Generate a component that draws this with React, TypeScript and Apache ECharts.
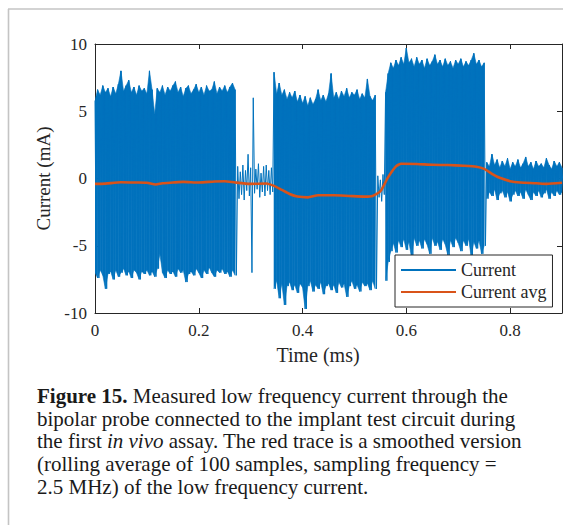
import React, { useEffect, useRef } from "react";
import * as echarts from "echarts";

// Sampling grid of the envelope read-out (ms)
const STEP = 0.005;

// Upper envelope of the "Current" trace (mA), one value per STEP, by segment
const UPPER_SEG1 = [5.8, 6.6, 6.2, 6.9, 6.4, 6.7, 6.1, 6.8, 6.3, 7.0, 8.0, 6.5, 6.9, 7.3, 6.4, 6.8, 6.2, 6.9, 6.5, 6.7, 6.3, 8.0, 6.6, 4.8, 6.7, 6.4, 6.9, 6.2, 6.8, 6.5, 6.9, 7.2, 6.4, 6.8, 6.1, 6.7, 6.9, 6.3, 6.6, 7.0, 6.4, 6.8, 6.2, 6.9, 6.5, 6.6, 7.2, 6.3, 6.8, 6.5, 6.9, 6.4, 6.8, 7.1, 6.6];
const UPPER_SEG2 = [0.9, 0.5, 1.0, 0.6, 1.8, 0.8, 6.0, 0.7, 1.1, 0.4, 0.9, 1.0, 0.6, 0.8];
const UPPER_SEG3 = [7.9, 6.3, 7.1, 6.2, 6.6, 5.9, 6.4, 6.0, 6.5, 5.7, 6.2, 5.6, 6.1, 5.4, 6.0, 5.5, 5.9, 6.6, 5.8, 6.2, 5.7, 6.3, 7.8, 6.0, 6.4, 5.9, 6.5, 6.1, 6.7, 6.0, 6.4, 6.2, 6.6, 5.9, 6.3, 6.0, 7.4, 6.1, 5.8, 6.2];
const UPPER_GAP = [0.2, -0.1, 0.3];
const UPPER_SEG4 = [6.4, 7.8, 8.6, 8.2, 8.8, 8.4, 9.0, 8.5, 9.7, 8.6, 8.9, 8.3, 9.0, 8.5, 8.8, 8.2, 8.9, 8.4, 8.7, 9.2, 8.5, 8.8, 8.3, 8.9, 8.4, 8.7, 8.2, 8.8, 8.5, 8.9, 8.3, 8.7, 8.4, 8.8, 9.3, 8.5, 8.8, 8.3, 8.6];
const UPPER_SEG5 = [1.2, 0.9, 1.8, 1.0, 1.4, 0.8, 1.3, 0.9, 1.5, 0.7, 1.2, 0.9, 1.4, 0.8, 1.1, 1.6, 0.9, 1.2, 0.7, 1.3, 0.9, 1.1, 0.8, 1.5, 1.0, 0.7, 1.3, 0.9, 1.2, 0.8];

// Lower envelope of the "Current" trace (mA)
const LOWER_SEG1 = [-7.0, -7.4, -6.8, -7.2, -8.2, -7.1, -6.9, -7.5, -6.8, -7.3, -7.0, -6.7, -7.2, -6.9, -7.4, -6.8, -7.0, -7.5, -6.9, -7.1, -6.8, -7.2, -6.9, -7.3, -6.7, -5.6, -7.0, -7.4, -6.8, -7.1, -6.9, -7.3, -6.7, -7.0, -6.8, -7.7, -7.1, -6.9, -7.2, -6.7, -7.0, -7.4, -6.8, -7.1, -6.6, -7.0, -7.3, -6.8, -7.0, -6.7, -7.1, -6.9, -7.3, -6.8, -7.2];
const LOWER_SEG2 = [-1.5, -1.2, -1.6, -0.9, -1.3, -7.0, -1.1, -0.8, -1.4, -1.0, -1.3, -0.9, -1.2, -1.0];
const LOWER_SEG3 = [-8.2, -7.6, -8.9, -7.8, -9.4, -8.0, -7.7, -8.3, -7.9, -8.5, -7.8, -8.1, -9.7, -8.0, -7.6, -8.4, -7.9, -8.2, -7.7, -8.6, -8.0, -7.8, -8.3, -7.9, -8.5, -7.7, -8.1, -7.8, -8.8, -8.0, -7.6, -8.2, -7.9, -8.4, -7.7, -8.0, -7.8, -8.3, -7.6, -8.2];
const LOWER_GAP = [-1.4, -1.7, -1.2];
const LOWER_SEG4 = [-7.6, -6.2, -5.4, -4.8, -5.5, -4.6, -5.1, -4.5, -5.3, -4.7, -5.9, -4.4, -5.0, -4.6, -5.2, -4.5, -4.9, -5.6, -4.4, -5.0, -4.7, -5.3, -4.5, -4.9, -5.7, -4.6, -5.1, -4.4, -4.8, -5.4, -4.6, -5.0, -4.5, -5.8, -4.7, -5.2, -4.6, -5.6, -5.0];
const LOWER_SEG5 = [-1.5, -1.0, -1.3, -0.8, -1.6, -1.1, -0.9, -1.4, -1.0, -1.7, -1.2, -0.9, -1.3, -1.0, -1.5, -0.8, -1.2, -1.6, -1.0, -1.3, -0.9, -1.4, -1.1, -0.8, -1.5, -1.0, -1.3, -0.9, -1.2, -1.0];

// Smoothed trace ("Current avg")
const AVG_T = [0, 0.02, 0.05, 0.08, 0.1, 0.117, 0.13, 0.15, 0.17, 0.2, 0.23, 0.25, 0.27, 0.3, 0.33, 0.345, 0.36, 0.375, 0.39, 0.41, 0.43, 0.46, 0.49, 0.52, 0.535, 0.55, 0.565, 0.58, 0.59, 0.62, 0.65, 0.68, 0.71, 0.735, 0.75, 0.765, 0.78, 0.8, 0.82, 0.85, 0.87, 0.9];
const AVG_V = [-0.4, -0.38, -0.28, -0.3, -0.32, -0.45, -0.35, -0.3, -0.25, -0.3, -0.22, -0.2, -0.3, -0.4, -0.37, -0.55, -0.85, -1.15, -1.34, -1.4, -1.25, -1.25, -1.3, -1.35, -1.3, -0.95, 0.1, 0.9, 1.1, 1.08, 1.02, 1.0, 0.95, 0.88, 0.72, 0.35, 0.05, -0.2, -0.3, -0.35, -0.4, -0.32];

const SERIES_NAMES = ["Current", "Current avg"];
const X_NAME = "Time (ms)";
const Y_NAME = "Current (mA)";

const CAPTION_LINES = [
  "{b|Figure 15.} Measured low frequency current through the",
  "bipolar probe connected to the implant test circuit during",
  "the first {i|in vivo} assay. The red trace is a smoothed version",
  "(rolling average of 100 samples, sampling frequency =",
  "2.5 MHz) of the low frequency current.",
];

const SERIF = "'Liberation Serif', 'Times New Roman', serif";
const AXIS_COLOR = "#262626";
const BLUE = "#0072bd";
const RED = "#d95319";

export default function App() {
  const ref = useRef<HTMLDivElement>(null);

  useEffect(() => {
    if (!ref.current) return;
    const chart = echarts.init(ref.current, undefined, { renderer: "svg" });

    const upperSegs = [UPPER_SEG1, UPPER_SEG2, UPPER_SEG3, UPPER_GAP, UPPER_SEG4, UPPER_SEG5];
    const lowerSegs = [LOWER_SEG1, LOWER_SEG2, LOWER_SEG3, LOWER_GAP, LOWER_SEG4, LOWER_SEG5];
    const filledSegment = [true, false, true, false, true, true];

    const upper = upperSegs.flat();
    const lower = lowerSegs.flat();

    // zig-zag trace through the envelope read-outs
    const zigzag: number[][] = [];
    for (let i = 0; i < upper.length; i++) {
      const t = i * STEP;
      zigzag.push([t, upper[i]]);
      zigzag.push([t + STEP / 2, lower[i]]);
    }

    // solid fill of the dense bursts, between the envelopes
    const band: number[][] = [];
    let offset = 0;
    upperSegs.forEach((seg, s) => {
      if (filledSegment[s]) {
        for (let k = 0; k + 1 < seg.length; k++) {
          const i = offset + k;
          band.push([i * STEP, upper[i], lower[i], (i + 1) * STEP, upper[i + 1], lower[i + 1]]);
        }
      }
      offset += seg.length;
    });

    const avg = AVG_T.map((t, i) => [t, AVG_V[i]]);

    const capFs = 21;
    const capBase = [403, 426, 448, 471, 494];

    const xCommon = {
      type: "value" as const,
      min: 0,
      max: 0.9,
      interval: 0.2,
      axisLine: { show: true, onZero: false, lineStyle: { color: AXIS_COLOR, width: 1 } },
      axisTick: { show: true, inside: true, length: 5, lineStyle: { color: AXIS_COLOR } },
      splitLine: { show: false },
    };
    const yCommon = {
      type: "value" as const,
      min: -10,
      max: 10,
      interval: 5,
      axisLine: { show: true, onZero: false, lineStyle: { color: AXIS_COLOR, width: 1 } },
      axisTick: { show: true, inside: true, length: 5, lineStyle: { color: AXIS_COLOR } },
      splitLine: { show: false },
    };

    chart.setOption({
      animation: false,
      backgroundColor: "#ffffff",
      grid: { left: 95, right: 1, top: 44, bottom: 212, containLabel: false },
      xAxis: [
        {
          ...xCommon,
          position: "bottom",
          name: X_NAME,
          nameLocation: "middle",
          nameGap: 32,
          nameTextStyle: { fontFamily: SERIF, fontSize: 20, color: AXIS_COLOR, padding: [0, 21, 0, 0] },
          axisLabel: {
            show: true,
            margin: 9,
            showMaxLabel: false,
            fontFamily: SERIF,
            fontSize: 17,
            color: AXIS_COLOR,
            formatter: (v: number) => String(+v.toFixed(1)),
          },
        },
        { ...xCommon, position: "top", axisLabel: { show: false } },
      ],
      yAxis: [
        {
          ...yCommon,
          position: "left",
          name: Y_NAME,
          nameLocation: "middle",
          nameGap: 40,
          nameTextStyle: { fontFamily: SERIF, fontSize: 19, color: AXIS_COLOR },
          axisLabel: { show: true, margin: 8, fontFamily: SERIF, fontSize: 17, color: AXIS_COLOR },
        },
        { ...yCommon, position: "right", axisLabel: { show: false } },
      ],
      legend: {
        data: [
          { name: SERIES_NAMES[0], icon: "rect", itemStyle: { color: BLUE } },
          { name: SERIES_NAMES[1], icon: "rect", itemStyle: { color: RED } },
        ],
        orient: "vertical",
        left: 395,
        top: 255,
        backgroundColor: "#ffffff",
        borderColor: AXIS_COLOR,
        borderWidth: 1,
        borderRadius: 0,
        padding: [6, 6, 6, 6],
        itemWidth: 55,
        itemHeight: 2,
        itemGap: 4,
        textStyle: { fontFamily: SERIF, fontSize: 18, color: AXIS_COLOR },
      },
      series: [
        {
          name: "band",
          type: "custom",
          data: band,
          silent: true,
          clip: true,
          z: 1,
          encode: { x: [0, 3], y: [1, 2, 4, 5] },
          renderItem: (_params: any, api: any) => {
            const a = api.coord([api.value(0), api.value(1)]);
            const b = api.coord([api.value(0), api.value(2)]);
            const c = api.coord([api.value(3), api.value(5)]);
            const d = api.coord([api.value(3), api.value(4)]);
            return {
              type: "polygon",
              shape: { points: [a, d, c, b] },
              style: { fill: BLUE, stroke: BLUE, lineWidth: 0.6 },
            };
          },
        },
        {
          name: SERIES_NAMES[0],
          type: "line",
          data: zigzag,
          symbol: "none",
          showSymbol: false,
          lineStyle: { color: BLUE, width: 1 },
          itemStyle: { color: BLUE },
          clip: true,
          z: 2,
        },
        {
          name: SERIES_NAMES[1],
          type: "line",
          data: avg,
          symbol: "none",
          showSymbol: false,
          smooth: 0.2,
          lineStyle: { color: RED, width: 2.6 },
          itemStyle: { color: RED },
          clip: true,
          z: 3,
        },
      ],
      graphic: [
        { type: "line", shape: { x1: 8, y1: 9, x2: 563, y2: 9 }, style: { stroke: "#c4c4c4", lineWidth: 1.6 } },
        { type: "line", shape: { x1: 8.5, y1: 9, x2: 8.5, y2: 525 }, style: { stroke: "#c4c4c4", lineWidth: 1.6 } },
        ...CAPTION_LINES.map((line, i) => ({
          type: "text",
          x: 37,
          y: capBase[i] - 7,
          style: {
            text: line,
            fontFamily: SERIF,
            fontSize: capFs,
            fill: "#1a1a1a",
            verticalAlign: "middle",
            align: "left",
            rich: {
              b: { fontFamily: SERIF, fontSize: capFs, fontWeight: "bold", fill: "#1a1a1a" },
              i: { fontFamily: SERIF, fontSize: capFs, fontStyle: "italic", fill: "#1a1a1a" },
            },
          },
        })),
      ],
    });

    return () => chart.dispose();
  }, []);

  return (
    <div style={{ position: "absolute", left: 0, top: 0, width: 563, height: 525, overflow: "hidden", background: "#fff" }}>
      <div ref={ref} style={{ width: 563, height: 525 }} />
    </div>
  );
}
